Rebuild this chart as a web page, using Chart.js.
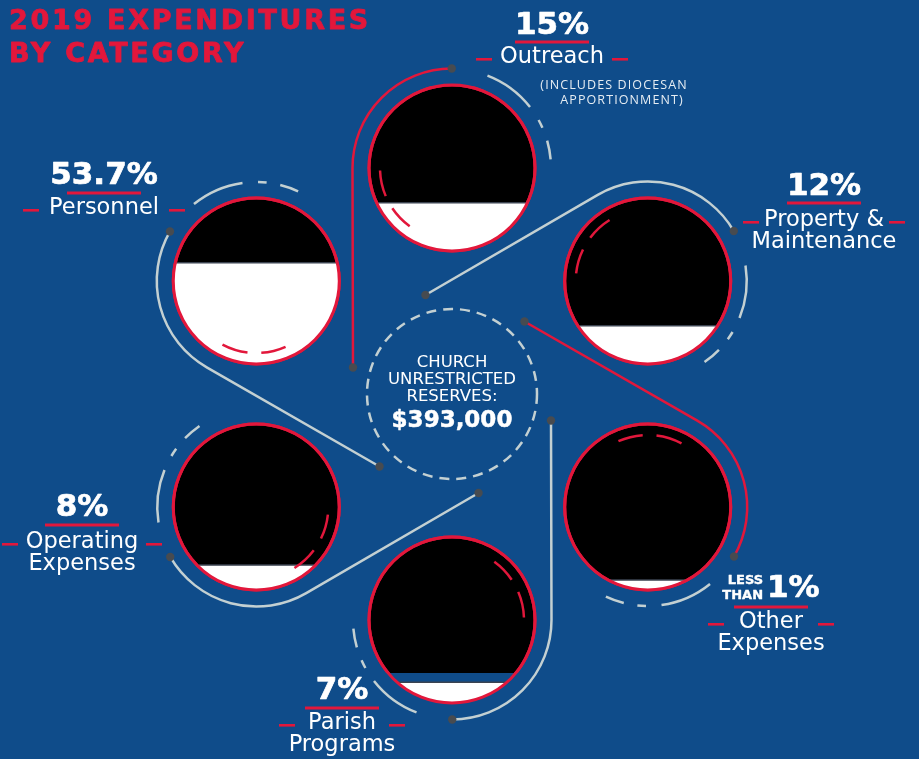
<!DOCTYPE html>
<html lang="en">
<head>
    <meta charset="UTF-8">
    <title>2019 Expenditures by Category</title>
    <style>
        html, body { margin: 0; padding: 0; background: #0f4c8a; overflow: hidden; }
        #wrap { width: 919px; height: 759px; }
    </style>
    <script src="https://cdn.jsdelivr.net/npm/chart.js"></script>
</head>
<body>
    <div id="wrap"><canvas id="chart" width="919" height="759"></canvas></div>
    <script>
        const nameLines = [['Personnel'], ['Outreach'], ['Property &', 'Maintenance'], ['Other', 'Expenses'], ['Parish', 'Programs'], ['Operating', 'Expenses']];
        const shares = [53.7, 15, 12, 1, 7, 8];
        const shareLabels = ['53.7%', '15%', '12%', '1%', '7%', '8%'];
        const sharePrefix = ['', '', '', 'LESS THAN', '', ''];
        // fraction of each gauge's height shown filled (as drawn)
        const gaugeFill = [0.61, 0.29, 0.23, 0.06, 0.125, 0.15];
        const reservesLines = ['CHURCH', 'UNRESTRICTED', 'RESERVES:'];
        const reservesAmount = '$393,000';

        // Layout
        const HUB = [452, 394];
        const HUB_DIST = 226;
        const slotAngles = [210, -90, -30, 30, 90, 150];
        const linkColors = ['gray', 'red', 'gray', 'red', 'gray', 'gray'];
        const labelPos = [
            { x: 104, pctY: 175, lineY: 193, nameY: 208, gap: 65 },
            { x: 552, pctY: 25, lineY: 42, nameY: 57, gap: 60 },
            { x: 824, pctY: 186, lineY: 203, nameY: 220, gap: 65 },
            { x: 771, pctY: 588, lineY: 607, nameY: 622, gap: 47 },
            { x: 342, pctY: 690, lineY: 708, nameY: 723, gap: 47 },
            { x: 82, pctY: 507, lineY: 525, nameY: 542, gap: 64 }
        ];

        const BLUE = '#0f4c8a';
        const RED = '#e2173b';
        const GRAY = '#c3d0d2';
        const DOT = '#474b50';
        const FONT = '"DejaVu Sans", sans-serif';
        const deg = Math.PI / 180;
        const R_GAUGE = 83, R_LINK = 99.5, R_OUTER = 99, R_INNER = 72;

        const points = slotAngles.map((a, i) => ({
            x: HUB[0] + HUB_DIST * Math.cos(a * deg),
            y: HUB[1] + HUB_DIST * Math.sin(a * deg),
            r: R_GAUGE,
            share: shares[i]
        }));

        function dot(ctx, x, y) {
            ctx.beginPath();
            ctx.arc(x, y, 4.2, 0, Math.PI * 2);
            ctx.fillStyle = DOT;
            ctx.fill();
        }

        // filled text with a thin outline of the same colour (heavier weight)
        function heavyText(ctx, text, x, y, w) {
            ctx.fillText(text, x, y);
            ctx.lineWidth = w;
            ctx.strokeStyle = ctx.fillStyle;
            ctx.strokeText(text, x, y);
        }

        const background = {
            id: 'background',
            beforeDraw(chart) {
                const ctx = chart.ctx;
                ctx.save();
                ctx.fillStyle = BLUE;
                ctx.fillRect(0, 0, chart.width, chart.height);
                ctx.restore();
            }
        };

        // connectors, dashed rings, hub
        const decor = {
            id: 'decor',
            beforeDatasetsDraw(chart) {
                const ctx = chart.ctx;
                const els = chart.getDatasetMeta(0).data;
                const hx = chart.scales.x.getPixelForValue(HUB[0]);
                const hy = chart.scales.y.getPixelForValue(HUB[1]);
                ctx.save();
                ctx.lineWidth = 2.5;
                ctx.strokeStyle = GRAY;
                ctx.setLineDash([10, 7]);
                ctx.beginPath();
                ctx.arc(hx, hy, 85, 0, Math.PI * 2);
                ctx.stroke();
                ctx.setLineDash([]);

                const dots = [];
                els.forEach((el, i) => {
                    const a = slotAngles[i] * deg;
                    const px = hx + 102.5 * Math.cos(a - 75 * deg);
                    const py = hy + 102.5 * Math.sin(a - 75 * deg);
                    const d = Math.hypot(px - el.x, py - el.y);
                    const t = Math.atan2(py - el.y, px - el.x) + Math.acos(R_LINK / d);
                    ctx.strokeStyle = linkColors[i] === 'red' ? RED : GRAY;
                    ctx.beginPath();
                    ctx.moveTo(px, py);
                    ctx.arc(el.x, el.y, R_LINK, t, t + Math.PI / 2);
                    ctx.stroke();
                    dots.push([px, py], [el.x + R_LINK * Math.cos(t + Math.PI / 2), el.y + R_LINK * Math.sin(t + Math.PI / 2)]);

                    ctx.strokeStyle = GRAY;
                    [[21, 52], [61, 66], [74, 85]].forEach(([s, e]) => {
                        ctx.beginPath();
                        ctx.arc(el.x, el.y, R_OUTER, a + s * deg, a + e * deg);
                        ctx.stroke();
                    });
                });
                dots.forEach(p => dot(ctx, p[0], p[1]));
                ctx.restore();
            }
        };

        // white level inside each gauge + glare dashes
        const gauge = {
            id: 'gauge',
            afterDatasetsDraw(chart) {
                const ctx = chart.ctx;
                const els = chart.getDatasetMeta(0).data;
                els.forEach((el, i) => {
                    const r = R_GAUGE;
                    const level = el.y + r - 2 * r * gaugeFill[i];
                    ctx.save();
                    ctx.beginPath();
                    ctx.arc(el.x, el.y, r, 0, Math.PI * 2);
                    ctx.clip();
                    ctx.fillStyle = '#ffffff';
                    ctx.fillRect(el.x - r, level, 2 * r, el.y + r - level + 2);
                    ctx.strokeStyle = '#3b4350';
                    ctx.lineWidth = 1.5;
                    ctx.beginPath();
                    ctx.moveTo(el.x - r, level);
                    ctx.lineTo(el.x + r, level);
                    ctx.stroke();
                    ctx.restore();

                    ctx.save();
                    const a = slotAngles[i] * deg;
                    ctx.strokeStyle = RED;
                    ctx.lineWidth = 2.5;
                    [[-144, -124], [-113, -92]].forEach(([s, e]) => {
                        ctx.beginPath();
                        ctx.arc(el.x, el.y, R_INNER, a + s * deg, a + e * deg);
                        ctx.stroke();
                    });
                    ctx.lineWidth = 3;
                    ctx.beginPath();
                    ctx.arc(el.x, el.y, r, 0, Math.PI * 2);
                    ctx.stroke();
                    ctx.restore();
                });
            }
        };

        const labels = {
            id: 'labels',
            afterDraw(chart) {
                const ctx = chart.ctx;
                ctx.save();
                ctx.textBaseline = 'alphabetic';
                ctx.lineJoin = 'round';

                // title
                ctx.fillStyle = RED;
                ctx.font = 'bold 27px ' + FONT;
                ctx.letterSpacing = '2.7px';
                ctx.textAlign = 'left';
                heavyText(ctx, '2019 EXPENDITURES', 9, 29, 0.8);
                heavyText(ctx, 'BY CATEGORY', 9, 62, 0.8);
                ctx.letterSpacing = '0px';

                ctx.textBaseline = 'middle';
                labelPos.forEach((p, i) => {
                    ctx.fillStyle = '#ffffff';
                    ctx.textAlign = 'center';
                    if (sharePrefix[i]) {
                        ctx.font = 'bold 31px ' + FONT;
                        const pw = ctx.measureText(shareLabels[i]).width;
                        ctx.font = 'bold 13px ' + FONT;
                        const words = sharePrefix[i].split(' ');
                        const qw = Math.max(...words.map(w => ctx.measureText(w).width));
                        const x0 = p.x - (qw + 4 + pw) / 2;
                        ctx.textAlign = 'right';
                        heavyText(ctx, words[0], x0 + qw, p.pctY - 7, 0.4);
                        heavyText(ctx, words[1], x0 + qw, p.pctY + 8, 0.4);
                        ctx.textAlign = 'left';
                        ctx.font = 'bold 31px ' + FONT;
                        heavyText(ctx, shareLabels[i], x0 + qw + 4, p.pctY + 1, 0.7);
                        ctx.textAlign = 'center';
                    } else {
                        ctx.font = 'bold 31px ' + FONT;
                        heavyText(ctx, shareLabels[i], p.x, p.pctY + 1, 0.7);
                    }
                    ctx.fillStyle = RED;
                    ctx.fillRect(p.x - 37, p.lineY - 1.5, 74, 3);

                    ctx.fillStyle = '#ffffff';
                    ctx.font = '22.5px ' + FONT;
                    nameLines[i].forEach((t, k) => ctx.fillText(t, p.x, p.nameY + k * 22));
                    ctx.fillStyle = RED;
                    ctx.fillRect(p.x - p.gap - 16, p.nameY + 1, 16, 2.6);
                    ctx.fillRect(p.x + p.gap, p.nameY + 1, 16, 2.6);
                });

                // note under Outreach
                ctx.fillStyle = '#e6edf3';
                ctx.font = '12.5px "Open Sans", sans-serif';
                ctx.letterSpacing = '1.1px';
                ctx.textAlign = 'center';
                ctx.fillText('(INCLUDES DIOCESAN', 614, 85);
                ctx.fillText('APPORTIONMENT)', 622, 100);
                ctx.letterSpacing = '0px';

                // hub text
                const hx = chart.scales.x.getPixelForValue(HUB[0]);
                const hy = chart.scales.y.getPixelForValue(HUB[1]);
                ctx.fillStyle = '#ffffff';
                ctx.font = '16.5px ' + FONT;
                reservesLines.forEach((t, k) => ctx.fillText(t, hx, hy - 31 + k * 17));
                ctx.font = 'bold 23px ' + FONT;
                heavyText(ctx, reservesAmount, hx, hy + 27, 0.5);
                ctx.restore();
            }
        };

        const chart = new Chart(document.getElementById('chart'), {
            type: 'bubble',
            data: {
                datasets: [{
                    label: 'Share of 2019 expenditures',
                    data: points,
                    backgroundColor: '#000000',
                    borderColor: RED,
                    borderWidth: 3,
                    hoverRadius: 0
                }]
            },
            options: {
                responsive: false,
                animation: false,
                events: [],
                layout: { padding: 0 },
                scales: {
                    x: { type: 'linear', min: 0, max: 919, display: false },
                    y: { type: 'linear', min: 0, max: 759, reverse: true, display: false }
                },
                plugins: {
                    legend: { display: false },
                    tooltip: { enabled: false }
                }
            },
            plugins: [background, decor, gauge, labels]
        });

        // bubbles reserve room around the plot area; match the scale ranges to it
        // so that one scale unit is one pixel of the 919x759 artboard
        const area = chart.chartArea;
        chart.options.scales.x.min = area.left;
        chart.options.scales.x.max = area.right;
        chart.options.scales.y.min = area.top;
        chart.options.scales.y.max = area.bottom;
        chart.update();
    </script>
</body>
</html>
